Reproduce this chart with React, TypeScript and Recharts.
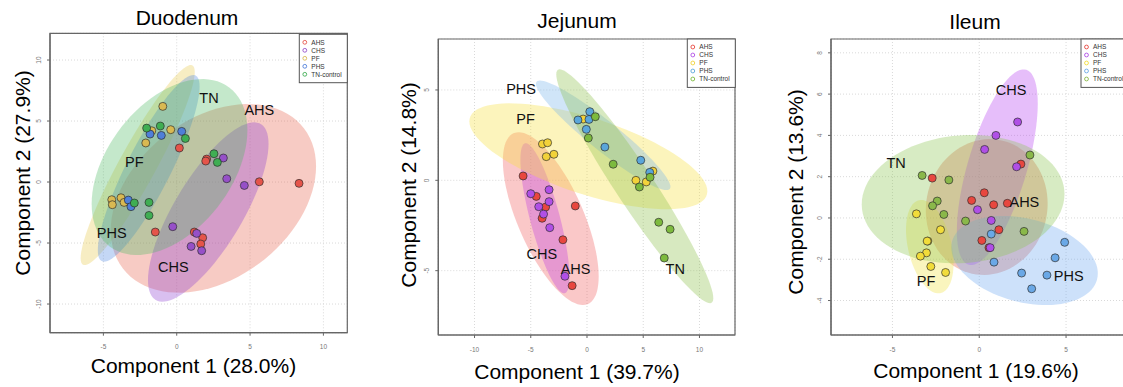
import React from 'react';
import { ScatterChart, Scatter, XAxis, YAxis, CartesianGrid, ReferenceArea } from 'recharts';

type Pt = [number, number];
// ellipse: centre x, centre y, half-width, half-height, tilt (correlation of the axes)
type Ell = [number, number, number, number, number];
type Tag = [string, number, number];

const FONT = '"Liberation Sans", Arial, Helvetica, sans-serif';
const FRAME = '#666666';
const GROUPS = ['AHS', 'CHS', 'PF', 'PHS', 'TN-control'];

// ---------- Duodenum ----------
const duoAHS: Pt[] = [[0.18, 2.79], [2.04, 1.88], [1.98, 1.72], [5.63, 0.02], [8.34, -0.11], [-1.46, -4.1], [1.2, -4.1], [1.77, -4.57], [1.64, -5.08]];
const duoCHS: Pt[] = [[3.18, 1.97], [3.41, 0.27], [4.61, -0.28], [-0.27, -3.66], [1.36, -4.21], [0.98, -5.28], [1.7, -5.63]];
const duoPF: Pt[] = [[-0.95, 6.2], [-0.41, 4.29], [-1.7, 4.2], [-2.11, 3.2], [-4.43, -1.45], [-4.39, -1.86], [-3.8, -1.29], [-3.59, -1.67]];
const duoPHS: Pt[] = [[-1.82, 3.93], [-1.05, 3.82], [0.34, 4.15], [-3.3, -1.48], [-3.12, -2.02]];
const duoTN: Pt[] = [[-2.05, 4.42], [-1.12, 4.59], [0.59, 3.57], [2.54, 2.32], [2.77, 1.61], [-1.89, -1.67], [-1.89, -2.74], [-2.89, -1.72]];
const duoEllipses: Ell[] = [
  [2.5, -1.34, 7.0, 7.73, 0.34],
  [2.15, -2.46, 4.11, 7.35, 0.76],
  [-2.66, 1.39, 3.89, 8.2, 0.93],
  [-1.91, 1.12, 3.47, 7.65, 0.875],
  [-0.49, 1.23, 5.31, 7.21, 0.42],
];
const duoTags: Tag[] = [['TN', 2.2, 6.94], ['AHS', 5.63, 5.9], ['PF', -2.89, 1.66], ['PHS', -4.43, -4.2], ['CHS', -0.23, -6.94]];
const duoXTicks = [-5, 0, 5, 10];
const duoYTicks = [-10, -5, 0, 5, 10];

// ---------- Jejunum ----------
const jejAHS: Pt[] = [[-5.68, 0.24], [-4.51, -0.89], [-3.68, -1.48], [-3.99, -2.1], [-1.04, -1.42], [-2.14, -3.29], [-1.32, -5.83]];
const jejCHS: Pt[] = [[-5.0, -0.74], [-3.37, -0.52], [-3.37, -1.18], [-4.29, -1.46], [-3.86, -1.87], [-3.31, -2.62], [-1.96, -5.31]];
const jejPF: Pt[] = [[-3.96, 2.01], [-3.5, 2.08], [-3.62, 1.31], [-2.94, 1.44], [4.35, 0.0], [5.27, -0.09], [5.86, 0.51], [-0.34, 3.39]];
const jejPHS: Pt[] = [[-0.8, 3.34], [0.25, 3.8], [0.18, 3.37], [-0.06, 2.82], [1.59, 1.84], [4.78, 1.11], [5.58, 0.44]];
const jejTN: Pt[] = [[0.74, 3.52], [0.12, 2.34], [2.33, 0.89], [5.61, 0.17], [4.66, -0.37], [6.38, -2.32], [7.39, -2.71], [6.87, -4.3]];
const jejEllipses: Ell[] = [
  [-3.22, -2.12, 4.26, 4.78, -0.67],
  [-3.74, -2.1, 2.18, 4.15, -0.78],
  [0.12, 1.33, 10.58, 2.93, -0.66],
  [1.44, 2.49, 5.98, 3.03, -0.94],
  [4.25, -0.33, 6.98, 6.47, -0.957],
];
const jejTags: Tag[] = [['PHS', -5.86, 5.04], ['PF', -5.46, 3.39], ['CHS', -4.02, -4.04], ['AHS', -1.01, -4.87], ['TN', 7.85, -4.91]];
const jejXTicks = [-10, -5, 0, 5, 10];
const jejYTicks = [-5, 0, 5];

// ---------- Ileum ----------
const ileAHS: Pt[] = [[2.4, 2.61], [-2.71, 1.93], [0.29, 1.22], [-0.44, 0.85], [0.83, 0.64], [1.62, 0.71], [1.13, -0.57], [0.15, -1.09], [0.56, -1.44]];
const ileCHS: Pt[] = [[2.21, 4.65], [0.96, 4.0], [0.31, 3.32], [2.15, 2.48], [-0.1, 0.4], [0.69, -0.12], [0.63, -1.44]];
const ilePF: Pt[] = [[-3.62, 0.2], [-2.23, -0.57], [-2.96, -1.12], [-3.0, -1.12], [-3.04, -1.69], [-3.39, -1.85], [-2.79, -2.35], [-1.94, -2.64]];
const ilePHS: Pt[] = [[0.69, -0.78], [4.92, -1.18], [4.37, -1.93], [0.85, -2.14], [2.44, -2.67], [3.9, -2.77], [3.02, -3.43]];
const ileTN: Pt[] = [[2.92, 3.05], [-3.29, 2.06], [-1.75, 1.84], [-2.42, 0.82], [-2.69, 0.59], [-2.04, 0.17], [-0.79, -0.15], [2.58, -0.65]];
const ileEllipses: Ell[] = [
  [0.43, 0.53, 3.51, 3.29, 0.05],
  [1.04, 2.46, 2.33, 4.74, 0.65],
  [-2.85, -1.39, 1.37, 2.26, -0.36],
  [2.61, -2.06, 4.22, 2.16, -0.29],
  [-0.93, 0.91, 5.84, 3.11, 0.08],
];
const ileTags: Tag[] = [['CHS', 1.83, 6.2], ['TN', -4.79, 2.65], ['AHS', 2.6, 0.76], ['PHS', 5.15, -2.81], ['PF', -3.06, -3.06]];
const ileXTicks = [-5, 0, 5];
const ileYTicks = [-4, -2, 0, 2, 4, 6, 8];

// ---------- colours (AHS, CHS, PF, PHS, TN) ----------
const duoDots = ['#E5544A', '#9650C8', '#D9B952', '#4F7FD9', '#3FAE53'];
const duoFills = ['#E8604C', '#8C3CD0', '#E6C84A', '#4C86E0', '#4DB862'];
const jejDots = ['#E8473F', '#B04FE6', '#F2D23A', '#5AA6DA', '#7DBA3E'];
const jejFills = ['#F06060', '#C040E0', '#F5E040', '#78B4EC', '#8CC04A'];
const ileDots = ['#E8473F', '#B04FE6', '#F2DC3A', '#6AA8E6', '#8AB84A'];
const ileFills = ['#E0604A', '#B845F1', '#F1E245', '#70A9F1', '#8DC654'];

const toXY = (pts: Pt[]) => pts.map(([x, y]) => ({ x, y }));

// outline of an ellipse given its bounding half-sizes and axis correlation
const ellipseOutline = ([cx, cy, hx, hy, rho]: Ell) => {
  const out: { x: number; y: number }[] = [];
  const k = Math.sqrt(1 - rho * rho);
  for (let i = 0; i <= 90; i++) {
    const t = (2 * Math.PI * i) / 90;
    out.push({ x: cx + hx * Math.cos(t), y: cy + hy * (rho * Math.cos(t) + k * Math.sin(t)) });
  }
  return out;
};

const Blank = () => <g />;

const makeDot = (color: string) => (p: any) => (
  <circle cx={p.cx} cy={p.cy} r={4} fill={color} stroke="#2b2b2b" strokeOpacity={0.75} strokeWidth={0.9} />
);

const TagShape = (p: any) => (
  <text x={p.cx} y={p.cy} dy="0.36em" textAnchor="middle" fontFamily={FONT} fontSize={14.5} fill="#111">
    {p.payload.name}
  </text>
);

interface PanelSpec {
  left: number;
  width: number;
  margin: { top: number; right: number; bottom: number; left: number };
  xDomain: [number, number];
  yDomain: [number, number];
  xTicks: number[];
  yTicks: number[];
  groups: Pt[][];
  ellipses: Ell[];
  tags: Tag[];
  dots: string[];
  fills: string[];
  fillOpacity: number;
  xTickDy: number;
}

const Panel = ({ s }: { s: PanelSpec }) => {
  const XTick = (p: any) => (
    <text x={p.x} y={p.y + s.xTickDy} textAnchor="middle" fontFamily={FONT} fontSize={6.5} fill="#777">
      {p.payload.value}
    </text>
  );
  const YTick = (p: any) => (
    <text transform={`translate(${p.x - 6.5},${p.y}) rotate(-90)`} textAnchor="middle" fontFamily={FONT} fontSize={6.5} fill="#777">
      {p.payload.value}
    </text>
  );
  return (
    <div style={{ position: 'absolute', left: s.left, top: 0 }}>
      <ScatterChart width={s.width} height={387} margin={s.margin}>
        <CartesianGrid stroke="#d9d9d9" strokeDasharray="1 2" />
        <XAxis
          type="number"
          dataKey="x"
          domain={s.xDomain}
          ticks={s.xTicks}
          allowDataOverflow
          interval={0}
          height={20}
          tickSize={3}
          tickMargin={0}
          axisLine={{ stroke: FRAME, strokeWidth: 1.2 }}
          tickLine={{ stroke: FRAME }}
          tick={XTick}
        />
        <YAxis
          type="number"
          dataKey="y"
          domain={s.yDomain}
          ticks={s.yTicks}
          allowDataOverflow
          interval={0}
          width={30}
          tickSize={3}
          tickMargin={0}
          axisLine={{ stroke: FRAME, strokeWidth: 1.2 }}
          tickLine={{ stroke: FRAME }}
          tick={YTick}
        />
        {s.ellipses.map((e, i) => (
          <Scatter
            key={`e${i}`}
            data={ellipseOutline(e)}
            shape={Blank}
            line={{ stroke: 'none', fill: s.fills[i], fillOpacity: s.fillOpacity }}
            isAnimationActive={false}
          />
        ))}
        {s.groups.map((g, i) => (
          <Scatter key={`g${i}`} data={toXY(g)} shape={makeDot(s.dots[i])} isAnimationActive={false} />
        ))}
        <Scatter data={s.tags.map(([name, x, y]) => ({ name, x, y }))} shape={TagShape} isAnimationActive={false} />
        <ReferenceArea
          x1={s.xDomain[0]}
          x2={s.xDomain[1]}
          y1={s.yDomain[0]}
          y2={s.yDomain[1]}
          fill="none"
          stroke={FRAME}
          strokeWidth={1.2}
          ifOverflow="visible"
        />
      </ScatterChart>
    </div>
  );
};

const panels: PanelSpec[] = [
  {
    left: 0,
    width: 360,
    margin: { top: 33.3, right: 12.7, bottom: 34.3, left: 20 },
    xDomain: [-8.64, 11.63],
    yDomain: [-12.35, 12.19],
    xTicks: duoXTicks,
    yTicks: duoYTicks,
    groups: [duoAHS, duoCHS, duoPF, duoPHS, duoTN],
    ellipses: duoEllipses,
    tags: duoTags,
    dots: duoDots,
    fills: duoFills,
    fillOpacity: 0.33,
    xTickDy: 12.8,
  },
  {
    left: 380,
    width: 370,
    margin: { top: 39, right: 15, bottom: 32, left: 28.3 },
    xDomain: [-13.22, 13.16],
    yDomain: [-8.56, 7.82],
    xTicks: jejXTicks,
    yTicks: jejYTicks,
    groups: [jejAHS, jejCHS, jejPF, jejPHS, jejTN],
    ellipses: jejEllipses,
    tags: jejTags,
    dots: jejDots,
    fills: jejFills,
    fillOpacity: 0.35,
    xTickDy: 13.5,
  },
  {
    left: 760,
    width: 380,
    margin: { top: 39, right: 12.5, bottom: 32, left: 41 },
    xDomain: [-8.54, 8.54],
    yDomain: [-5.67, 8.67],
    xTicks: ileXTicks,
    yTicks: ileYTicks,
    groups: [ileAHS, ileCHS, ilePF, ilePHS, ileTN],
    ellipses: ileEllipses,
    tags: ileTags,
    dots: ileDots,
    fills: ileFills,
    fillOpacity: 0.35,
    xTickDy: 13.5,
  },
];

const titles = [
  { text: 'Duodenum', x: 187, y: 25 },
  { text: 'Jejunum', x: 577, y: 28 },
  { text: 'Ileum', x: 975, y: 29 },
];
const xTitles = [
  { text: 'Component 1 (28.0%)', x: 193.5, y: 373 },
  { text: 'Component 1 (39.7%)', x: 577, y: 379 },
  { text: 'Component 1 (19.6%)', x: 976, y: 378 },
];
const yTitles = [
  { text: 'Component 2 (27.9%)', x: 29.5, y: 173 },
  { text: 'Component 2 (14.8%)', x: 415.5, y: 185 },
  { text: 'Component 2 (13.6%)', x: 802.5, y: 192 },
];
const legends = [
  { x: 299.3, y: 34.3, dots: duoDots },
  { x: 687.3, y: 39, dots: jejDots },
  { x: 1081, y: 39, dots: ileDots },
];

export default function App() {
  return (
    <div style={{ position: 'absolute', left: 0, top: 0, width: 1123, height: 387, overflow: 'hidden', background: '#fff' }}>
      {panels.map((s, i) => (
        <Panel key={i} s={s} />
      ))}
      <svg width={1123} height={387} style={{ position: 'absolute', left: 0, top: 0, pointerEvents: 'none' }}>
        {titles.map((t) => (
          <text key={t.text} x={t.x} y={t.y} textAnchor="middle" fontFamily={FONT} fontSize={21} fill="#000">
            {t.text}
          </text>
        ))}
        {xTitles.map((t) => (
          <text key={t.text} x={t.x} y={t.y} textAnchor="middle" fontFamily={FONT} fontSize={21} fill="#000">
            {t.text}
          </text>
        ))}
        {yTitles.map((t) => (
          <text key={t.text} transform={`translate(${t.x},${t.y}) rotate(-90)`} textAnchor="middle" fontFamily={FONT} fontSize={21} fill="#000">
            {t.text}
          </text>
        ))}
        {legends.map((l, li) => (
          <g key={li} transform={`translate(${l.x},${l.y})`}>
            <rect x={0} y={0} width={48} height={48.4} fill="#fff" stroke="#555" strokeWidth={1} />
            {GROUPS.map((g, gi) => (
              <g key={g}>
                <circle cx={5.5} cy={8 + gi * 8} r={1.9} fill="none" stroke={l.dots[gi]} strokeWidth={0.9} />
                <text x={12} y={8 + gi * 8} dy="0.35em" fontFamily={FONT} fontSize={6.5} fill="#333">
                  {g}
                </text>
              </g>
            ))}
          </g>
        ))}
      </svg>
    </div>
  );
}
